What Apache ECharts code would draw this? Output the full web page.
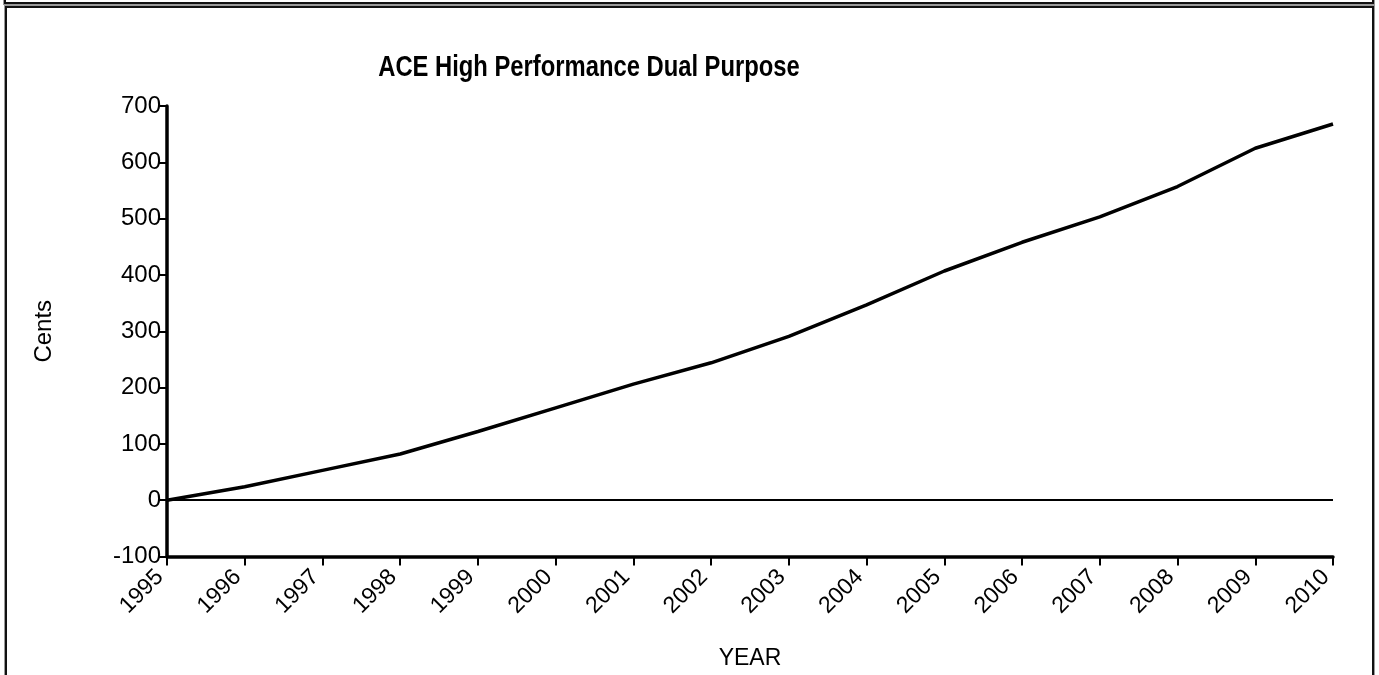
<!DOCTYPE html>
<html><head><meta charset="utf-8">
<script src="https://cdn.jsdelivr.net/npm/echarts@6/dist/echarts.min.js"></script>
<style>
html,body{margin:0;padding:0;background:#fff;overflow:hidden;}
#top{position:absolute;left:4px;top:-10px;width:1366px;height:10px;border:2px solid #111;box-shadow:0 0 0 1px #999;}
#box{position:absolute;left:5px;top:6px;width:1365px;height:700px;border:2px solid #111;box-shadow:0 0 0 1px #999;}
#chart{position:absolute;left:0;top:0;width:1379px;height:675px;}
</style></head>
<body>
<div id="top"></div>
<div id="box"></div>
<div id="chart"></div>
<script>
const years = ['1995','1996','1997','1998','1999','2000','2001','2002','2003','2004','2005','2006','2007','2008','2009','2010'];
const cents = [0, 24, 53, 82, 122, 164, 206, 244, 291, 347, 407, 458, 503, 557, 625, 668];
const yTicks = {min: -100, max: 700, interval: 100};
const titleText = 'ACE High Performance Dual Purpose';

const chart = echarts.init(document.getElementById('chart'), null, {renderer: 'canvas'});
const font = '"Liberation Sans", Arial, Helvetica, sans-serif';
chart.setOption({
  animation: false,
  backgroundColor: 'transparent',
  graphic: [{
    type: 'text', x: 589, y: 68, scaleX: 0.82,
    style: {text: titleText, fontFamily: font, fontWeight: 'bold', fontSize: 29, fill: '#000',
            align: 'center', verticalAlign: 'middle'}
  }],
  grid: {left: 167, right: 46, top: 106, bottom: 118.5, containLabel: false, outerBoundsMode: 'none'},
  xAxis: {
    type: 'category', data: years, boundaryGap: false,
    name: 'YEAR', nameLocation: 'middle', nameGap: 91,
    nameTextStyle: {fontFamily: font, fontSize: 23, color: '#000'},
    axisLine: {onZero: false, lineStyle: {color: '#000', width: 3.5}},
    axisTick: {show: true, length: 9, lineStyle: {color: '#000', width: 2}},
    axisLabel: {rotate: 45, fontFamily: font, fontSize: 23, color: '#000', margin: 10,
                padding: [0, 10, 0, 0], interval: 0},
    splitLine: {show: false}
  },
  yAxis: {
    type: 'value', min: yTicks.min, max: yTicks.max, interval: yTicks.interval,
    name: 'Cents', nameLocation: 'middle', nameGap: 111, nameRotate: 90,
    nameTextStyle: {fontFamily: font, fontSize: 24, color: '#000'},
    axisLine: {show: true, lineStyle: {color: '#000', width: 3.5}},
    axisTick: {show: true, length: 8, lineStyle: {color: '#000', width: 2}},
    axisLabel: {fontFamily: font, fontSize: 24, color: '#000', margin: 6},
    splitLine: {show: false}
  },
  series: [{
    type: 'line', data: cents, symbol: 'none',
    lineStyle: {color: '#000', width: 3.5},
    markLine: {
      silent: true, symbol: 'none', label: {show: false},
      lineStyle: {color: '#000', width: 2, type: 'solid'},
      data: [{yAxis: 0}]
    }
  }]
});
</script>
</body></html>
